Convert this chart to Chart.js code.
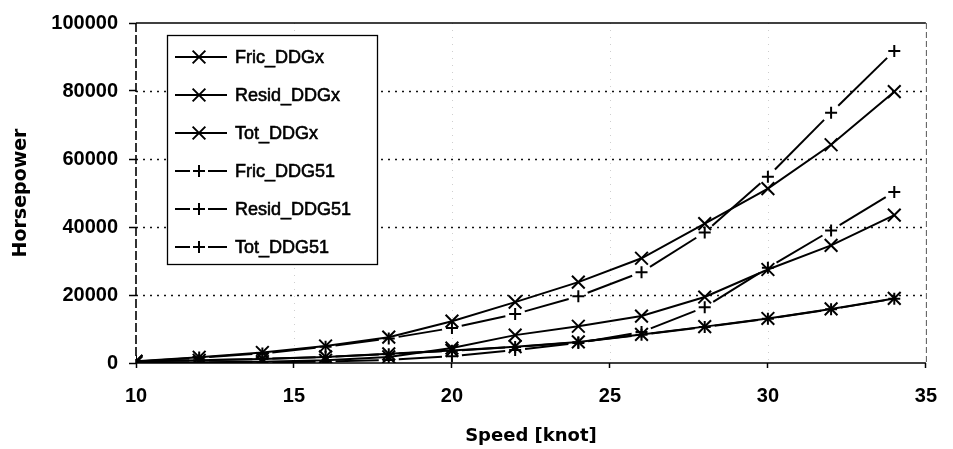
<!DOCTYPE html>
<html>
<head>
<meta charset="utf-8">
<style>
  html, body { margin: 0; padding: 0; background: #fff; }
  #wrap { width: 953px; height: 449px; }
</style>
<script src="https://cdn.jsdelivr.net/npm/chart.js@4/dist/chart.umd.min.js"></script>
</head>
<body>
<div id="wrap"><canvas id="c" width="953" height="449"></canvas></div>
<script>
// Ship speed [knot] and effective horsepower components
const speeds = [10, 12, 14, 16, 18, 20, 22, 24, 26, 28, 30, 32, 34];

const fricDDGx   = [500, 800, 1200, 1800, 2700, 3700, 4800, 6200, 8400, 10700, 13100, 15900, 19000];
const residDDGx  = [100, 200, 400, 800, 1800, 4400, 8200, 10800, 13800, 19400, 27500, 34600, 43500];
const totDDGx    = [500, 1700, 3100, 5000, 7600, 12300, 17900, 23800, 30800, 41000, 51300, 64200, 79800];
const fricDDG51  = [500, 800, 1200, 1800, 2600, 3600, 4700, 6100, 8300, 10600, 13000, 15800, 18900];
const residDDG51 = [0, 100, 200, 400, 900, 2000, 3800, 5900, 9100, 16400, 28000, 39000, 50300];
const totDDG51   = [400, 1600, 2800, 4800, 7200, 10300, 14400, 19600, 26700, 38400, 54800, 73600, 91800];

const seriesLabels = ['Fric_DDGx', 'Resid_DDGx', 'Tot_DDGx', 'Fric_DDG51', 'Resid_DDG51', 'Tot_DDG51'];

const speedTicks = [10, 15, 20, 25, 30, 35];
const hpTicks = [0, 20000, 40000, 60000, 80000, 100000];

const toPoints = arr => speeds.map((s, i) => ({ x: s, y: arr[i] }));

// Long dash per segment, leaving a gap on each side of the markers
const GAP = 10;
const segLen = c => Math.hypot(c.p1.x - c.p0.x, c.p1.y - c.p0.y);
const gapFor = L => Math.min(GAP, L / 4);
const gappedSegment = {
  borderDash: c => { const L = segLen(c); const g = gapFor(L); return [L - 2 * g, 2 * g]; },
  borderDashOffset: c => -gapFor(segLen(c))
};

function solidSeries(label, arr) {
  return {
    label, data: toPoints(arr),
    borderColor: '#000', backgroundColor: '#000', borderWidth: 2,
    pointStyle: 'crossRot', pointRadius: 9, pointBorderWidth: 2, pointBorderColor: '#000',
    pointHoverRadius: 9, tension: 0, fill: false, kind: 'x'
  };
}
function dashedSeries(label, arr) {
  return {
    label, data: toPoints(arr),
    borderColor: '#000', backgroundColor: '#000', borderWidth: 2,
    pointStyle: 'cross', pointRadius: 6, pointBorderWidth: 2, pointBorderColor: '#000',
    pointHoverRadius: 6, tension: 0, fill: false, segment: gappedSegment, kind: 'plus'
  };
}

const datasets = [
  solidSeries(seriesLabels[0], fricDDGx),
  solidSeries(seriesLabels[1], residDDGx),
  solidSeries(seriesLabels[2], totDDGx),
  dashedSeries(seriesLabels[3], fricDDG51),
  dashedSeries(seriesLabels[4], residDDG51),
  dashedSeries(seriesLabels[5], totDDG51)
];

// Dotted grid and the plot frame
const framePlugin = {
  id: 'frame',
  beforeDatasetsDraw(chart) {
    const { ctx, chartArea: a, scales: { x, y } } = chart;
    ctx.save();
    ctx.lineCap = 'butt';
    // horizontal dotted grid
    ctx.strokeStyle = '#111';
    ctx.lineWidth = 1.6;
    ctx.setLineDash([2, 5]);
    hpTicks.slice(1, -1).forEach(v => {
      const py = Math.round(y.getPixelForValue(v)) + 0.5;
      ctx.beginPath(); ctx.moveTo(a.left, py); ctx.lineTo(a.right, py); ctx.stroke();
    });
    // faint vertical grid
    ctx.strokeStyle = '#cfcfcf';
    ctx.lineWidth = 1;
    ctx.setLineDash([1, 6]);
    speedTicks.slice(1, -1).forEach(v => {
      const px = Math.round(x.getPixelForValue(v)) + 0.5;
      ctx.beginPath(); ctx.moveTo(px, a.top); ctx.lineTo(px, a.bottom); ctx.stroke();
    });
    // top edge
    ctx.setLineDash([]);
    ctx.strokeStyle = '#000';
    ctx.lineWidth = 1.6;
    ctx.beginPath(); ctx.moveTo(a.left, a.top); ctx.lineTo(a.right, a.top); ctx.stroke();
    // bottom axis
    ctx.beginPath(); ctx.moveTo(a.left, a.bottom); ctx.lineTo(a.right, a.bottom); ctx.stroke();
    // left axis
    ctx.setLineDash([9, 3]);
    ctx.beginPath(); ctx.moveTo(a.left, a.top); ctx.lineTo(a.left, a.bottom); ctx.stroke();
    // right edge
    ctx.strokeStyle = '#555';
    ctx.lineWidth = 1;
    ctx.setLineDash([6, 3]);
    ctx.beginPath(); ctx.moveTo(a.right + 0.5, a.top); ctx.lineTo(a.right + 0.5, a.bottom); ctx.stroke();
    ctx.restore();
  }
};

// Boxed legend in the upper left of the plot
const legendPlugin = {
  id: 'boxLegend',
  afterDatasetsDraw(chart) {
    const ctx = chart.ctx;
    const box = { left: 167, top: 35, right: 377, bottom: 264 };
    const firstRow = 57, rowStep = 38;
    const lineL = 175, lineR = 227, mark = 199, textX = 235;
    ctx.save();
    ctx.fillStyle = '#fff';
    ctx.fillRect(box.left, box.top, box.right - box.left, box.bottom - box.top);
    ctx.strokeStyle = '#000';
    ctx.lineWidth = 1.3;
    ctx.setLineDash([]);
    ctx.strokeRect(box.left + 0.5, box.top + 0.5, box.right - box.left, box.bottom - box.top);

    chart.data.datasets.forEach((ds, i) => {
      const yy = firstRow + i * rowStep;
      ctx.strokeStyle = '#000';
      ctx.lineWidth = 2;
      ctx.setLineDash([]);
      ctx.beginPath();
      if (ds.kind === 'x') {
        ctx.moveTo(lineL, yy); ctx.lineTo(lineR, yy);
      } else {
        ctx.moveTo(lineL, yy); ctx.lineTo(mark - 9, yy);
        ctx.moveTo(mark + 9, yy); ctx.lineTo(lineR, yy);
      }
      ctx.stroke();
      ctx.beginPath();
      if (ds.kind === 'x') {
        const r = ds.pointRadius * Math.SQRT1_2;
        ctx.moveTo(mark - r, yy - r); ctx.lineTo(mark + r, yy + r);
        ctx.moveTo(mark - r, yy + r); ctx.lineTo(mark + r, yy - r);
      } else {
        const r = ds.pointRadius;
        ctx.moveTo(mark - r, yy); ctx.lineTo(mark + r, yy);
        ctx.moveTo(mark, yy - r); ctx.lineTo(mark, yy + r);
      }
      ctx.stroke();
      ctx.fillStyle = '#000';
      ctx.font = '18px "Liberation Sans", Arial, sans-serif';
      ctx.textBaseline = 'middle';
      ctx.textAlign = 'left';
      ctx.fillText(ds.label, textX, yy + 1);
      ctx.lineWidth = 0.6;
      ctx.strokeText(ds.label, textX, yy + 1);
    });
    ctx.restore();
  }
};

const tickFont = { family: '"Liberation Sans", Arial, sans-serif', size: 20, weight: 'bold' };
const titleFont = { family: '"DejaVu Sans", sans-serif', size: 18, weight: 'bold' };

new Chart(document.getElementById('c'), {
  type: 'line',
  data: { datasets },
  options: {
    responsive: false,
    animation: false,
    devicePixelRatio: 1,
    events: [],
    layout: { padding: { top: 22, right: 15, left: 0, bottom: 0 } },
    plugins: { legend: { display: false }, tooltip: { enabled: false } },
    scales: {
      x: {
        type: 'linear', min: 10, max: 35,
        afterBuildTicks: s => { s.ticks = speedTicks.map(v => ({ value: v })); },
        afterFit: s => { s.height = 86; },
        border: { display: false },
        grid: { drawOnChartArea: false, drawTicks: true, tickLength: 5, tickColor: '#000', tickWidth: 1.5 },
        ticks: { color: '#000', font: tickFont, padding: 16, maxRotation: 0, callback: v => String(v) },
        title: { display: true, text: 'Speed [knot]', color: '#000', font: titleFont, padding: { top: 0, bottom: 2 } }
      },
      y: {
        type: 'linear', min: 0, max: 100000,
        afterBuildTicks: s => { s.ticks = hpTicks.map(v => ({ value: v })); },
        afterFit: s => { s.width = 136; },
        border: { display: false },
        grid: { drawOnChartArea: false, drawTicks: true, tickLength: 7, tickColor: '#000', tickWidth: 1.5 },
        ticks: { color: '#000', font: tickFont, padding: 11, callback: v => String(v) },
        title: { display: true, text: 'Horsepower', color: '#000', font: { ...titleFont, size: 19 }, padding: { top: 10, bottom: 0 } }
      }
    }
  },
  plugins: [framePlugin, legendPlugin]
});
</script>
</body>
</html>
